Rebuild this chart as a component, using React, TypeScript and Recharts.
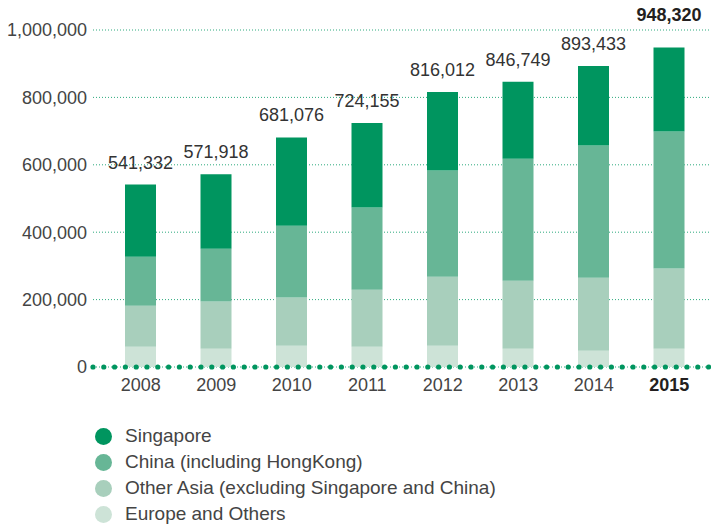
import {
  BarChart,
  Bar,
  XAxis,
  YAxis,
  CartesianGrid,
  LabelList,
} from "recharts";

const years = ["2008", "2009", "2010", "2011", "2012", "2013", "2014", "2015"];
const europe = [60000, 54000, 63000, 60000, 63000, 54000, 48000, 54000];
const otherAsia = [122000, 140000, 143000, 169000, 205000, 202000, 217000, 238000];
const china = [145000, 157000, 213000, 244000, 315000, 362000, 392000, 407000];
const singapore = [214332, 220918, 262076, 251155, 233012, 228749, 236433, 249320];
const totals = [541332, 571918, 681076, 724155, 816012, 846749, 893433, 948320];
const yTicks = [0, 200000, 400000, 600000, 800000, 1000000];

const SERIES = [
  { key: "singapore", name: "Singapore", color: "#00955f" },
  { key: "china", name: "China (including HongKong)", color: "#67b696" },
  { key: "other", name: "Other Asia (excluding Singapore and China)", color: "#a8cfbc" },
  { key: "europe", name: "Europe and Others", color: "#cde3d7" },
];

const data = years.map((year, i) => ({
  year,
  europe: europe[i],
  other: otherAsia[i],
  china: china[i],
  singapore: singapore[i],
  total: totals[i],
}));

const FONT = "'Liberation Sans', Arial, sans-serif";
const fmt = (v: number) => v.toLocaleString("en-US");

const TotalLabel = (props: any) => {
  const { x, y, width, index } = props;
  const last = index === years.length - 1;
  return (
    <text
      x={x + width / 2}
      y={y - (last ? 26 : 16)}
      textAnchor="middle"
      fontFamily={FONT}
      fontSize={18}
      fontWeight={last ? 700 : 400}
      fill={last ? "#231f20" : "#333"}
    >
      {fmt(totals[index])}
    </text>
  );
};

const YearTick = (props: any) => {
  const { x, y, payload, index } = props;
  const last = index === years.length - 1;
  return (
    <text
      x={x}
      y={y + 16}
      textAnchor="middle"
      fontFamily={FONT}
      fontSize={18}
      fontWeight={last ? 700 : 400}
      fill={last ? "#231f20" : "#444"}
    >
      {payload.value}
    </text>
  );
};

const LegendList = () => (
  <div
    style={{
      position: "absolute",
      left: 95,
      top: 423,
      fontFamily: FONT,
      fontSize: 19,
      color: "#444",
    }}
  >
    {SERIES.map((s) => (
      <div key={s.key} style={{ display: "flex", alignItems: "center", height: 26 }}>
        <span
          style={{
            width: 17,
            height: 17,
            borderRadius: "50%",
            background: s.color,
            display: "inline-block",
            marginRight: 13,
          }}
        />
        {s.name}
      </div>
    ))}
  </div>
);

const App = () => {
  return (
    <div style={{ position: "absolute", left: 0, top: 0, width: 711, height: 527 }}>
      <BarChart
        width={711}
        height={527}
        data={data}
        margin={{ top: 30, right: 0, bottom: 130, left: 0 }}
      >
        <CartesianGrid
          vertical={false}
          stroke="#2eaa7e"
          strokeDasharray="1 2"
          strokeWidth={1}
        />
        <XAxis
          dataKey="year"
          height={30}
          padding={{ left: 10, right: 4 }}
          tickLine={false}
          axisLine={{
            stroke: "#00955f",
            strokeWidth: 5.2,
            strokeDasharray: "0 10.8",
            strokeLinecap: "round",
          }}
          tick={<YearTick />}
        />
        <YAxis
          width={93}
          domain={[0, 1000000]}
          ticks={yTicks}
          tickFormatter={fmt}
          axisLine={false}
          tickLine={false}
          tickMargin={0}
          tick={{ fontFamily: FONT, fontSize: 18, fill: "#444" }}
        />
        <Bar dataKey="europe" stackId="a" fill={SERIES[3].color} barSize={31} isAnimationActive={false} />
        <Bar dataKey="other" stackId="a" fill={SERIES[2].color} barSize={31} isAnimationActive={false} />
        <Bar dataKey="china" stackId="a" fill={SERIES[1].color} barSize={31} isAnimationActive={false} />
        <Bar dataKey="singapore" stackId="a" fill={SERIES[0].color} barSize={31} isAnimationActive={false}>
          <LabelList dataKey="total" content={<TotalLabel />} />
        </Bar>
      </BarChart>
      <LegendList />
    </div>
  );
};

export default App;
